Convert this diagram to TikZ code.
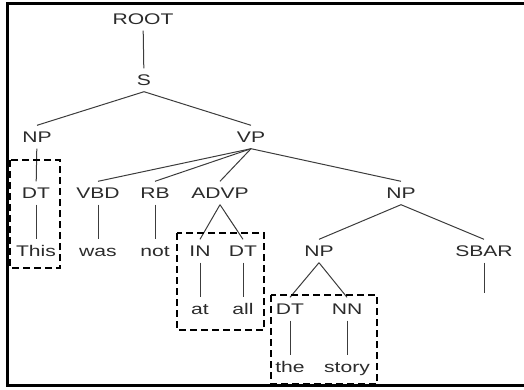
\documentclass[tikz,border=0pt]{standalone}
\usepackage{fontspec}
\setmainfont[FakeStretch=1.37]{Liberation Sans}
\usepackage{xcolor}
\usepackage{tikz}
\definecolor{ink}{HTML}{2B2B2B}
\definecolor{branch}{HTML}{3C3C3C}

\begin{document}
\begin{tikzpicture}[
    x=1pt, y=-1pt,
    tag/.style={anchor=base, text=ink, font=\fontsize{15.4}{18}\selectfont, text height=11pt, text depth=1pt, inner xsep=1pt, inner ysep=5.5pt},
    branch/.style={draw=branch, line width=1pt},
    chunk/.style={draw=black, line width=2.8pt, dash pattern=on 7pt off 4pt},
    frame/.style={draw=black, line width=3pt}
  ]
    \useasboundingbox (0,0) rectangle (524,389);

    % frame (left, top, bottom)
    \draw[frame] (524,3) -- (7,3) -- (7,385) -- (524,385);

    % phrase nodes
    \node[tag] (root) at (143,24) {ROOT};
    \node[tag] (s) at (144,85) {S};
    \node[tag] (np) at (37,142) {NP};
    \node[tag] (vp) at (251,142) {VP};
    \node[tag] (dtA) at (36,198) {DT};
    \node[tag] (vbd) at (98,198) {VBD};
    \node[tag] (rb) at (155,198) {RB};
    \node[tag] (advp) at (220,198) {ADVP};
    \node[tag] (npB) at (401,198) {NP};
    \node[tag] (in) at (200,256) {IN};
    \node[tag] (dtB) at (243,256) {DT};
    \node[tag] (npC) at (319,256) {NP};
    \node[tag] (sbar) at (484,256) {SBAR};
    \node[tag] (dtC) at (290,314) {DT};
    \node[tag] (nn) at (347,314) {NN};

    % words
    \node[tag] (this) at (36,256) {This};
    \node[tag] (was) at (98,256) {was};
    \node[tag] (not) at (155,256) {not};
    \node[tag] (at) at (200,314) {at};
    \node[tag] (all) at (243,314) {all};
    \node[tag] (the) at (290,372) {the};
    \node[tag] (story) at (347,372) {story};
    \coordinate (sbarEnd) at (484,293);

    % branches
    \draw[branch] (root) -- (s);
    \draw[branch] (s.south) -- (np.north);
    \draw[branch] (s.south) -- (vp.north);
    \draw[branch] (np) -- (dtA);
    \draw[branch] (dtA) -- (this);
    \foreach \kid in {vbd, rb, advp, npB}
      \draw[branch] (vp.south) -- (\kid.north);
    \draw[branch] (vbd) -- (was);
    \draw[branch] (rb) -- (not);
    \draw[branch] (advp.south) -- (in.north);
    \draw[branch] (advp.south) -- (dtB.north);
    \draw[branch] (in) -- (at);
    \draw[branch] (dtB) -- (all);
    \draw[branch] (npB.south) -- (npC.north);
    \draw[branch] (npB.south) -- (sbar.north);
    \draw[branch] (sbar.south) -- (sbarEnd);
    \draw[branch] (npC.south) -- (dtC.north);
    \draw[branch] (npC.south) -- (nn.north);
    \draw[branch] (dtC) -- (the);
    \draw[branch] (nn) -- (story);

    % dashed chunks
    \draw[chunk] (10,160) rectangle (60,268);
    \draw[chunk] (177,233) rectangle (264,330);
    \draw[chunk] (271,295) rectangle (377,384);

  \end{tikzpicture}
\end{document}
